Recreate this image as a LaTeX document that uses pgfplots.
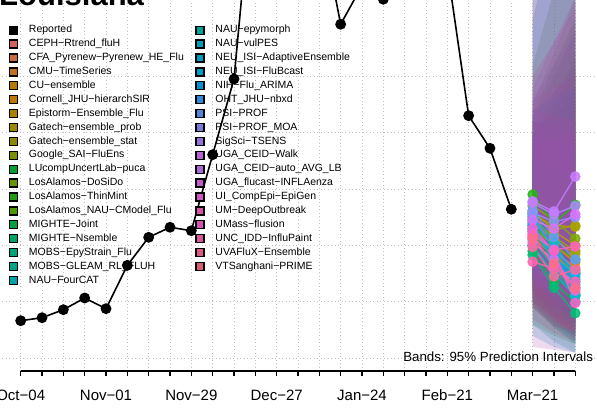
\documentclass[border=0pt]{standalone}
\usepackage{fontspec}
\setmainfont{Liberation Sans}
\usepackage{pgfplots}
\pgfplotsset{compat=1.18}
\definecolor{c1}{HTML}{F8766D}
\definecolor{c2}{HTML}{F07E4D}
\definecolor{c3}{HTML}{E58526}
\definecolor{c4}{HTML}{DE8C00}
\definecolor{c5}{HTML}{D39200}
\definecolor{c6}{HTML}{C69A00}
\definecolor{c7}{HTML}{B79F00}
\definecolor{c8}{HTML}{A5A400}
\definecolor{c9}{HTML}{93AA00}
\definecolor{c10}{HTML}{7CAE00}
\definecolor{c11}{HTML}{5EB300}
\definecolor{c12}{HTML}{26B713}
\definecolor{c13}{HTML}{00BA38}
\definecolor{c14}{HTML}{00BC56}
\definecolor{c15}{HTML}{00BF75}
\definecolor{c16}{HTML}{00C08B}
\definecolor{c17}{HTML}{00C19F}
\definecolor{c18}{HTML}{00C0B2}
\definecolor{c19}{HTML}{00BFC4}
\definecolor{c20}{HTML}{00BCD5}
\definecolor{c21}{HTML}{00B9E3}
\definecolor{c22}{HTML}{00B4F0}
\definecolor{c23}{HTML}{00ACFB}
\definecolor{c24}{HTML}{35A2FF}
\definecolor{c25}{HTML}{619CFF}
\definecolor{c26}{HTML}{9091FF}
\definecolor{c27}{HTML}{AE87FF}
\definecolor{c28}{HTML}{C77CFF}
\definecolor{c29}{HTML}{DB72FB}
\definecolor{c30}{HTML}{E96AF1}
\definecolor{c31}{HTML}{F564E3}
\definecolor{c32}{HTML}{FC61D4}
\definecolor{c33}{HTML}{FF61C3}
\definecolor{c34}{HTML}{FF64B0}
\definecolor{c35}{HTML}{FF699C}
\definecolor{c36}{HTML}{FD6F85}
\pgfplotsset{
  sw/.style={legend image code/.code={\draw[line width=1.3pt,draw=black,fill=#1] (0pt,-4pt) rectangle (8pt,4pt);}},
  band/.style={forget plot, draw=none, fill=#1!72!black, fill opacity=0.2},
  fc/.style={forget plot, color=#1, line width=1.4pt, mark=*, mark size=4.6pt, opacity=0.85},
}
\begin{document}
\begin{tikzpicture}
\begin{axis}[
  x=21.33pt, y=0.5645pt,
  xmin=-1.04, xmax=27.04, ymin=-22.5, ymax=634.7,
  clip=false,
  axis line style={draw=none},
  xtick={0,...,26},
  xticklabels={Oct−04,,,,Nov−01,,,,Nov−29,,,,Dec−27,,,,Jan−24,,,,Feb−21,,,,Mar−21,,},
  xtick pos=left, tick align=outside, major tick length=5pt,
  xtick style={black, line width=1.3pt},
  xticklabel style={font=\fontsize{15}{15}\selectfont, anchor=base, yshift=-25pt},
  ytick={0,100,...,500}, yticklabels={}, ytick style={draw=none},
  grid=major,
  major grid style={gray!50, line width=0.7pt, dash pattern=on 0.8pt off 2.7pt},
  legend style={at={(axis description cs:0.0174,0.932)}, anchor=north west, draw=none, fill=none,
    inner sep=0pt, outer sep=0pt, row sep=4pt, font=\fontsize{10.5}{12}\selectfont,
    nodes={inner sep=0pt, text height=7.6pt, text depth=2.3pt},
    /tikz/every odd column/.append style={column sep=10.75pt},
    /tikz/every even column/.append style={column sep=11.5pt}},
  legend cell align=left, transpose legend, legend columns=19,
]
\coordinate (BL) at (rel axis cs:0,0);
\addlegendimage{sw=black}\addlegendentry{Reported}
\addlegendimage{sw=c1!85!black}\addlegendentry{CEPH−Rtrend\_fluH}
\addlegendimage{sw=c2!85!black}\addlegendentry{CFA\_Pyrenew−Pyrenew\_HE\_Flu}
\addlegendimage{sw=c3!85!black}\addlegendentry{CMU−TimeSeries}
\addlegendimage{sw=c5!85!black}\addlegendentry{CU−ensemble}
\addlegendimage{sw=c4!85!black}\addlegendentry{Cornell\_JHU−hierarchSIR}
\addlegendimage{sw=c6!85!black}\addlegendentry{Epistorm−Ensemble\_Flu}
\addlegendimage{sw=c7!85!black}\addlegendentry{Gatech−ensemble\_prob}
\addlegendimage{sw=c8!85!black}\addlegendentry{Gatech−ensemble\_stat}
\addlegendimage{sw=c9!85!black}\addlegendentry{Google\_SAI−FluEns}
\addlegendimage{sw=c13!85!black}\addlegendentry{LUcompUncertLab−puca}
\addlegendimage{sw=c10!85!black}\addlegendentry{LosAlamos−DoSiDo}
\addlegendimage{sw=c12!85!black}\addlegendentry{LosAlamos−ThinMint}
\addlegendimage{sw=c11!85!black}\addlegendentry{LosAlamos\_NAU−CModel\_Flu}
\addlegendimage{sw=c14!85!black}\addlegendentry{MIGHTE−Joint}
\addlegendimage{sw=c15!85!black}\addlegendentry{MIGHTE−Nsemble}
\addlegendimage{sw=c16!85!black}\addlegendentry{MOBS−EpyStrain\_Flu}
\addlegendimage{sw=c17!85!black}\addlegendentry{MOBS−GLEAM\_RL\_FLUH}
\addlegendimage{sw=c19!85!black}\addlegendentry{NAU−FourCAT}
\addlegendimage{sw=c18!85!black}\addlegendentry{NAU−epymorph}
\addlegendimage{sw=c20!85!black}\addlegendentry{NAU−vulPES}
\addlegendimage{sw=c21!85!black}\addlegendentry{NEU\_ISI−AdaptiveEnsemble}
\addlegendimage{sw=c22!85!black}\addlegendentry{NEU\_ISI−FluBcast}
\addlegendimage{sw=c23!85!black}\addlegendentry{NIH−Flu\_ARIMA}
\addlegendimage{sw=c24!85!black}\addlegendentry{OHT\_JHU−nbxd}
\addlegendimage{sw=c25!85!black}\addlegendentry{PSI−PROF}
\addlegendimage{sw=c26!85!black}\addlegendentry{PSI−PROF\_MOA}
\addlegendimage{sw=c27!85!black}\addlegendentry{SigSci−TSENS}
\addlegendimage{sw=c29!85!black}\addlegendentry{UGA\_CEID−Walk}
\addlegendimage{sw=c28!85!black}\addlegendentry{UGA\_CEID−auto\_AVG\_LB}
\addlegendimage{sw=c30!85!black}\addlegendentry{UGA\_flucast−INFLAenza}
\addlegendimage{sw=c31!85!black}\addlegendentry{UI\_CompEpi−EpiGen}
\addlegendimage{sw=c33!85!black}\addlegendentry{UM−DeepOutbreak}
\addlegendimage{sw=c32!85!black}\addlegendentry{UMass−flusion}
\addlegendimage{sw=c34!85!black}\addlegendentry{UNC\_IDD−InfluPaint}
\addlegendimage{sw=c35!85!black}\addlegendentry{UVAFluX−Ensemble}
\addlegendimage{sw=c36!85!black}\addlegendentry{VTSanghani−PRIME}
% x axis line
\draw[line width=1.3pt] (axis cs:0,-22.5) -- (axis cs:26,-22.5);
% bands
\addplot[band=c1] coordinates {(24,120) (25,95) (26,70) (26,480) (25,420) (24,360)} --cycle;
\addplot[band=c2] coordinates {(24,100) (25,75) (26,55) (26,540) (25,470) (24,400)} --cycle;
\addplot[band=c3] coordinates {(24,140) (25,110) (26,85) (26,500) (25,440) (24,380)} --cycle;
\addplot[band=c4] coordinates {(24,90) (25,60) (26,40) (26,640) (25,540) (24,450)} --cycle;
\addplot[band=c5] coordinates {(24,130) (25,100) (26,75) (26,450) (25,400) (24,350)} --cycle;
\addplot[band=c6] coordinates {(24,150) (25,120) (26,95) (26,530) (25,460) (24,390)} --cycle;
\addplot[band=c7] coordinates {(24,160) (25,140) (26,120) (26,480) (25,420) (24,370)} --cycle;
\addplot[band=c8] coordinates {(24,150) (25,125) (26,110) (26,520) (25,450) (24,400)} --cycle;
\addplot[band=c9] coordinates {(24,135) (25,105) (26,80) (26,580) (25,500) (24,420)} --cycle;
\addplot[band=c10] coordinates {(24,60) (25,40) (26,25) (26,780) (25,650) (24,520)} --cycle;
\addplot[band=c11] coordinates {(24,125) (25,95) (26,70) (26,510) (25,440) (24,380)} --cycle;
\addplot[band=c12] coordinates {(24,170) (25,130) (26,140) (26,600) (25,520) (24,430)} --cycle;
\addplot[band=c13] coordinates {(24,110) (25,70) (26,45) (26,290) (25,300) (24,320)} --cycle;
\addplot[band=c14] coordinates {(24,100) (25,60) (26,35) (26,260) (25,280) (24,310)} --cycle;
\addplot[band=c15] coordinates {(24,95) (25,55) (26,25) (26,280) (25,310) (24,330)} --cycle;
\addplot[band=c16] coordinates {(24,120) (25,80) (26,50) (26,340) (25,360) (24,380)} --cycle;
\addplot[band=c17] coordinates {(24,105) (25,70) (26,40) (26,320) (25,340) (24,360)} --cycle;
\addplot[band=c18] coordinates {(24,60) (25,30) (26,10) (26,900) (25,800) (24,700)} --cycle;
\addplot[band=c19] coordinates {(24,140) (25,95) (26,60) (26,420) (25,420) (24,420)} --cycle;
\addplot[band=c20] coordinates {(24,90) (25,55) (26,30) (26,380) (25,390) (24,400)} --cycle;
\addplot[band=c21] coordinates {(24,120) (25,85) (26,55) (26,330) (25,350) (24,360)} --cycle;
\addplot[band=c22] coordinates {(24,115) (25,80) (26,60) (26,370) (25,380) (24,400)} --cycle;
\addplot[band=c23] coordinates {(24,40) (25,20) (26,10) (26,900) (25,750) (24,600)} --cycle;
\addplot[band=c24] coordinates {(24,130) (25,95) (26,70) (26,390) (25,400) (24,420)} --cycle;
\addplot[band=c32] coordinates {(24,110) (25,70) (26,35) (26,340) (25,380) (24,400)} --cycle;
\addplot[band=c33] coordinates {(24,115) (25,95) (26,85) (26,400) (25,390) (24,380)} --cycle;
\addplot[band=c34] coordinates {(24,70) (25,45) (26,30) (26,620) (25,560) (24,500)} --cycle;
\addplot[band=c35] coordinates {(24,90) (25,55) (26,50) (26,500) (25,480) (24,460)} --cycle;
\addplot[band=c36] coordinates {(24,100) (25,70) (26,45) (26,400) (25,410) (24,420)} --cycle;
\addplot[band=c25] coordinates {(24,140) (25,100) (26,70) (26,480) (25,460) (24,440)} --cycle;
\addplot[band=c26] coordinates {(24,150) (25,125) (26,120) (26,510) (25,470) (24,430)} --cycle;
\addplot[band=c27] coordinates {(24,160) (25,130) (26,130) (26,580) (25,520) (24,460)} --cycle;
\addplot[band=c28] coordinates {(24,150) (25,110) (26,120) (26,1000) (25,800) (24,650)} --cycle;
\addplot[band=c29] coordinates {(24,130) (25,110) (26,115) (26,640) (25,560) (24,480)} --cycle;
\addplot[band=c30] coordinates {(24,20) (25,15) (26,10) (26,1300) (25,1100) (24,900)} --cycle;
\addplot[band=c31] coordinates {(24,95) (25,65) (26,45) (26,420) (25,430) (24,440)} --cycle;
% forecasts
\addplot[fc=c1] coordinates {(24,225) (25,190) (26,160)};
\addplot[fc=c2] coordinates {(24,215) (25,180) (26,150)};
\addplot[fc=c3] coordinates {(24,240) (25,210) (26,185)};
\addplot[fc=c4] coordinates {(24,230) (25,200) (26,170)};
\addplot[fc=c5] coordinates {(24,220) (25,185) (26,150)};
\addplot[fc=c6] coordinates {(24,250) (25,225) (26,200)};
\addplot[fc=c7] coordinates {(24,255) (25,235) (26,233)};
\addplot[fc=c8] coordinates {(24,260) (25,228) (26,235)};
\addplot[fc=c9] coordinates {(24,245) (25,215) (26,190)};
\addplot[fc=c10] coordinates {(24,270) (25,245) (26,212)};
\addplot[fc=c11] coordinates {(24,235) (25,200) (26,175)};
\addplot[fc=c12] coordinates {(24,290) (25,240) (26,272)};
\addplot[fc=c13] coordinates {(24,200) (25,145) (26,115)};
\addplot[fc=c14] coordinates {(24,190) (25,133) (26,100)};
\addplot[fc=c15] coordinates {(24,183) (25,125) (26,80)};
\addplot[fc=c16] coordinates {(24,230) (25,170) (26,125)};
\addplot[fc=c17] coordinates {(24,210) (25,160) (26,112)};
\addplot[fc=c18] coordinates {(24,245) (25,195) (26,140)};
\addplot[fc=c19] coordinates {(24,255) (25,205) (26,145)};
\addplot[fc=c20] coordinates {(24,200) (25,150) (26,110)};
\addplot[fc=c21] coordinates {(24,225) (25,180) (26,130)};
\addplot[fc=c22] coordinates {(24,240) (25,177) (26,150)};
\addplot[fc=c23] coordinates {(24,235) (25,185) (26,135)};
\addplot[fc=c24] coordinates {(24,250) (25,195) (26,155)};
\addplot[fc=c25] coordinates {(24,262) (25,215) (26,175)};
\addplot[fc=c26] coordinates {(24,258) (25,242) (26,250)};
\addplot[fc=c27] coordinates {(24,275) (25,255) (26,270)};
\addplot[fc=c28] coordinates {(24,278) (25,260) (26,322)};
\addplot[fc=c29] coordinates {(24,245) (25,230) (26,255)};
\addplot[fc=c30] coordinates {(24,205) (25,175) (26,125)};
\addplot[fc=c31] coordinates {(24,215) (25,165) (26,120)};
\addplot[fc=c32] coordinates {(24,230) (25,190) (26,98)};
\addplot[fc=c33] coordinates {(24,220) (25,192) (26,198)};
\addplot[fc=c34] coordinates {(24,171) (25,159) (26,136)};
\addplot[fc=c35] coordinates {(24,197) (25,145) (26,157)};
\addplot[fc=c36] coordinates {(24,212) (25,168) (26,124)};
% reported
\addplot[forget plot, black, line width=1.6pt, mark=*, mark size=4.6pt] coordinates {
(0,66.6) (1,71.9) (2,86.1) (3,106.8) (4,87.9) (5,164.7) (6,214.3) (7,232.1) (8,226.0)
(9,360.7) (10,494.8) (11,899) (12,1010) (13,960) (14,787) (15,591.7) (16,660) (17,636)
(18,720) (19,745) (20,691) (21,429.8) (22,372) (23,264)};
\node[anchor=base east, inner sep=0pt, font=\fontsize{13.3}{13.3}\selectfont] at (axis cs:26.84,-4.8) {Bands: 95\% Prediction Intervals};
\end{axis}
\node[anchor=base west, inner sep=0pt, font=\fontsize{31}{31}\selectfont\bfseries] at ([xshift=0.5pt,yshift=365.5pt]BL) {Louisiana};
\pgfresetboundingbox
\path ([xshift=1.48pt,yshift=-41pt]BL) rectangle ++(597pt,412pt);
\end{tikzpicture}
\end{document}
